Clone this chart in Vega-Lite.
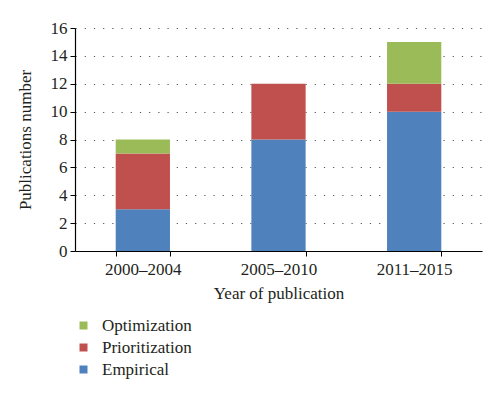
{
  "$schema": "https://vega.github.io/schema/vega-lite/v6.json",
  "width": 500,
  "height": 398,
  "autosize": {"type": "fit", "contains": "padding"},
  "padding": {"left": 16, "top": 19, "right": 18, "bottom": 20},
  "background": "white",
  "config": {
    "font": "Liberation Serif",
    "view": {"stroke": null}
  },
  "data": {
    "values": [
      {"period": "2000–2004", "type": "Empirical", "count": 3},
      {"period": "2000–2004", "type": "Prioritization", "count": 4},
      {"period": "2000–2004", "type": "Optimization", "count": 1},
      {"period": "2005–2010", "type": "Empirical", "count": 8},
      {"period": "2005–2010", "type": "Prioritization", "count": 4},
      {"period": "2005–2010", "type": "Optimization", "count": 0},
      {"period": "2011–2015", "type": "Empirical", "count": 10},
      {"period": "2011–2015", "type": "Prioritization", "count": 2},
      {"period": "2011–2015", "type": "Optimization", "count": 3}
    ]
  },
  "transform": [
    {"calculate": "indexof(['Empirical','Prioritization','Optimization'], datum.type)", "as": "stackOrder"}
  ],
  "mark": {"type": "bar"},
  "encoding": {
    "x": {
      "field": "period",
      "type": "nominal",
      "scale": {"paddingInner": 0.6, "paddingOuter": 0.3},
      "axis": {
        "title": "Year of publication",
        "titleFont": "Liberation Serif",
        "titleFontSize": 17,
        "titleFontWeight": "normal",
        "titleColor": "#231f20",
        "titlePadding": 8,
        "labelFont": "Liberation Serif",
        "labelFontSize": 17,
        "labelColor": "#231f20",
        "labelAngle": 0,
        "labelPadding": 5,
        "tickBand": "extent",
        "tickSize": 5,
        "tickColor": "#000",
        "domainColor": "#000",
        "domainWidth": 1.2,
        "grid": false
      }
    },
    "y": {
      "field": "count",
      "type": "quantitative",
      "stack": "zero",
      "scale": {"domain": [0, 16], "nice": false},
      "axis": {
        "title": "Publications number",
        "titleFont": "Liberation Serif",
        "titleFontSize": 17,
        "titleFontWeight": "normal",
        "titleColor": "#231f20",
        "titlePadding": 16,
        "labelFont": "Liberation Serif",
        "labelFontSize": 17,
        "labelColor": "#231f20",
        "labelPadding": 3,
        "values": [0, 2, 4, 6, 8, 10, 12, 14, 16],
        "tickSize": 5,
        "tickColor": "#000",
        "domainColor": "#000",
        "domainWidth": 1.2,
        "grid": true,
        "gridDash": [1.2, 8],
        "gridColor": "#555",
        "gridWidth": 1
      }
    },
    "color": {
      "field": "type",
      "type": "nominal",
      "scale": {
        "domain": ["Optimization", "Prioritization", "Empirical"],
        "range": ["#9BBB59", "#C0504D", "#4F81BD"]
      },
      "legend": {
        "title": null,
        "orient": "bottom",
        "direction": "vertical",
        "symbolType": "square",
        "symbolSize": 64,
        "symbolStrokeWidth": 0,
        "labelFont": "Liberation Serif",
        "labelFontSize": 17,
        "labelColor": "#231f20",
        "labelOffset": 10,
        "rowPadding": 4,
        "offset": 16
      }
    },
    "order": {"field": "stackOrder", "type": "quantitative", "sort": "ascending"}
  }
}
